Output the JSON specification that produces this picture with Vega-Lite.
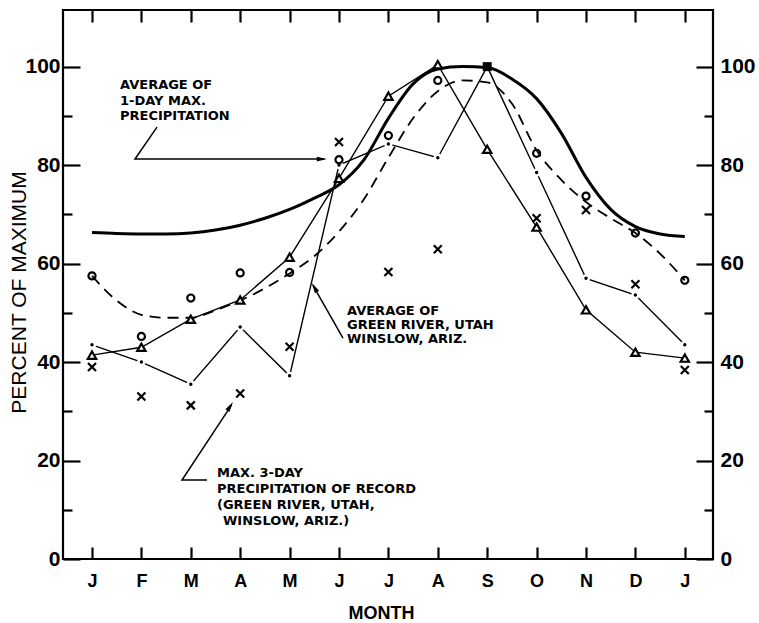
{
  "$schema": "https://vega.github.io/schema/vega-lite/v6.json",
  "width": 650,
  "height": 549,
  "autosize": {"type": "none"},
  "padding": {"left": 63, "top": 10, "right": 46, "bottom": 64},
  "background": "white",
  "config": {
    "view": {"stroke": "black", "strokeWidth": 2.2},
    "axis": {"domain": false, "grid": false, "tickColor": "black", "tickWidth": 2.2, "labelColor": "black", "titleColor": "black", "labelFont": "Liberation Sans", "titleFont": "Liberation Sans"},
    "line": {"color": "black"},
    "point": {"color": "black"}
  },
  "datasets": {
    "onedaymax": [
      {"month": 0, "value": 66.3}, {"month": 0.5, "value": 66.1}, {"month": 1, "value": 66.0}, {"month": 1.5, "value": 66.0},
      {"month": 2, "value": 66.2}, {"month": 2.5, "value": 66.8}, {"month": 3, "value": 67.8}, {"month": 3.5, "value": 69.2},
      {"month": 4, "value": 71.0}, {"month": 4.5, "value": 73.3}, {"month": 5, "value": 76.0}, {"month": 5.5, "value": 81.0},
      {"month": 6, "value": 89.5}, {"month": 6.5, "value": 96.5}, {"month": 7, "value": 99.5}, {"month": 7.5, "value": 100.0},
      {"month": 8, "value": 99.8}, {"month": 8.5, "value": 97.5}, {"month": 9, "value": 93.5}, {"month": 9.5, "value": 86.5},
      {"month": 10, "value": 77.5}, {"month": 10.5, "value": 71.0}, {"month": 11, "value": 67.5}, {"month": 11.5, "value": 66.0},
      {"month": 12, "value": 65.5}
    ],
    "avgcurve": [
      {"month": 0, "value": 57.5}, {"month": 0.5, "value": 52.5}, {"month": 1, "value": 49.6}, {"month": 1.5, "value": 49.0},
      {"month": 2, "value": 49.0}, {"month": 2.5, "value": 50.5}, {"month": 3, "value": 52.5}, {"month": 3.5, "value": 55.0},
      {"month": 4, "value": 58.0}, {"month": 4.5, "value": 61.5}, {"month": 5, "value": 66.5}, {"month": 5.5, "value": 73.0},
      {"month": 6, "value": 81.5}, {"month": 6.5, "value": 89.5}, {"month": 7, "value": 95.0}, {"month": 7.5, "value": 97.2},
      {"month": 8, "value": 96.8}, {"month": 8.5, "value": 92.5}, {"month": 9, "value": 83.0}, {"month": 9.5, "value": 77.0},
      {"month": 10, "value": 72.5}, {"month": 10.5, "value": 69.2}, {"month": 11, "value": 66.2}, {"month": 11.5, "value": 62.0},
      {"month": 12, "value": 56.6}
    ],
    "triangles": [
      {"month": 0, "value": 41.4}, {"month": 1, "value": 43.0}, {"month": 2, "value": 48.7}, {"month": 3, "value": 52.6},
      {"month": 4, "value": 61.3}, {"month": 5, "value": 77.3}, {"month": 6, "value": 94.0}, {"month": 7, "value": 100.4},
      {"month": 8, "value": 83.2}, {"month": 9, "value": 67.4}, {"month": 10, "value": 50.6}, {"month": 11, "value": 42.0},
      {"month": 12, "value": 40.8}
    ],
    "dots": [
      {"month": 0, "value": 43.5}, {"month": 1, "value": 40.0}, {"month": 2, "value": 35.5}, {"month": 3, "value": 47.1},
      {"month": 4, "value": 37.2}, {"month": 5, "value": 80.0}, {"month": 6, "value": 84.3}, {"month": 7, "value": 81.5},
      {"month": 8, "value": 100.0}, {"month": 9, "value": 78.5}, {"month": 10, "value": 57.0}, {"month": 11, "value": 53.6},
      {"month": 12, "value": 43.5}
    ],
    "circles": [
      {"month": 0, "value": 57.5}, {"month": 1, "value": 45.2}, {"month": 2, "value": 53.0}, {"month": 3, "value": 58.1},
      {"month": 4, "value": 58.2}, {"month": 5, "value": 81.1}, {"month": 6, "value": 86.0}, {"month": 7, "value": 97.2},
      {"month": 9, "value": 82.4}, {"month": 10, "value": 73.7}, {"month": 11, "value": 66.2}, {"month": 12, "value": 56.6}
    ],
    "crosses": [
      {"month": 0, "value": 39.0}, {"month": 1, "value": 33.0}, {"month": 2, "value": 31.2}, {"month": 3, "value": 33.6},
      {"month": 4, "value": 43.1}, {"month": 5, "value": 84.7}, {"month": 6, "value": 58.3}, {"month": 7, "value": 62.9},
      {"month": 9, "value": 69.2}, {"month": 10, "value": 70.9}, {"month": 11, "value": 55.8}, {"month": 12, "value": 38.4}
    ],
    "coincident": [
      {"month": 8, "value": 100.0}
    ],
    "arrows": [
      {"arrow": "a1", "order": 1, "month": 1.316, "value": 87.72},
      {"arrow": "a1", "order": 2, "month": 0.870, "value": 81.22},
      {"arrow": "a1", "order": 3, "month": 4.700, "value": 81.22},
      {"arrow": "a2", "order": 1, "month": 5.081, "value": 44.87},
      {"arrow": "a2", "order": 2, "month": 4.470, "value": 55.60},
      {"arrow": "a3", "order": 1, "month": 2.328, "value": 16.04},
      {"arrow": "a3", "order": 2, "month": 1.822, "value": 16.04},
      {"arrow": "a3", "order": 3, "month": 2.820, "value": 31.20}
    ],
    "arrowtips": [
      {"arrow": "a1", "month": 4.757, "value": 81.22},
      {"arrow": "a2", "month": 4.453, "value": 56.04},
      {"arrow": "a3", "month": 2.854, "value": 31.88}
    ],
    "notes": [
      {"month": 0.567, "value": 95.43, "text": "AVERAGE OF"},
      {"month": 0.567, "value": 92.28, "text": "1-DAY MAX."},
      {"month": 0.567, "value": 89.14, "text": "PRECIPITATION"},
      {"month": 5.162, "value": 49.54, "text": "AVERAGE OF"},
      {"month": 5.162, "value": 46.70, "text": "GREEN RIVER, UTAH"},
      {"month": 5.162, "value": 43.96, "text": "WINSLOW, ARIZ."},
      {"month": 2.530, "value": 16.65, "text": "MAX. 3-DAY"},
      {"month": 2.530, "value": 13.40, "text": "PRECIPITATION OF RECORD"},
      {"month": 2.530, "value": 10.15, "text": "(GREEN RIVER, UTAH,"},
      {"month": 2.652, "value": 6.90, "text": "WINSLOW, ARIZ.)"}
    ]
  },
  "resolve": {"axis": {"x": "independent", "y": "independent"}},
  "layer": [
    {
      "data": {"name": "onedaymax"},
      "mark": {"type": "line", "strokeWidth": 3, "interpolate": "monotone"},
      "encoding": {
        "x": {"field": "month", "type": "quantitative", "scale": {"domain": [-0.587, 12.571], "nice": false, "zero": false},
          "axis": {"orient": "bottom", "values": [0,1,2,3,4,5,6,7,8,9,10,11,12],
            "labelExpr": "['J','F','M','A','M','J','J','A','S','O','N','D','J'][datum.value]",
            "ticks": false, "tickSize": 0, "labelPadding": 13, "labelFontSize": 18, "labelFontWeight": "bold",
            "labelBaseline": "top", "labelFlush": false, "labelOverlap": false,
            "title": "MONTH", "titleFontSize": 18, "titleFontWeight": "bold", "titleX": 318, "titleY": 59, "titleBaseline": "alphabetic", "titleAlign": "center"}},
        "y": {"field": "value", "type": "quantitative", "scale": {"domain": [0, 111.5], "nice": false, "zero": false},
          "axis": {"orient": "left", "values": [0,20,40,60,80,100], "ticks": false, "tickSize": 0, "labelPadding": 3,
            "labelFontSize": 21, "labelFontWeight": "bold", "labelFlush": false, "labelOverlap": false,
            "title": "PERCENT OF MAXIMUM", "titleFontSize": 21, "titleFontWeight": "normal", "titleAngle": -90,
            "titleX": -38, "titleY": 282, "titleBaseline": "alphabetic", "titleAlign": "center"}}
      }
    },
    {
      "data": {"name": "avgcurve"},
      "mark": {"type": "line", "strokeWidth": 1.8, "strokeDash": [11, 7], "interpolate": "monotone"},
      "encoding": {
        "x": {"field": "month", "type": "quantitative", "scale": {"domain": [-0.587, 12.571], "nice": false, "zero": false},
          "axis": {"orient": "bottom", "values": [0,1,2,3,4,5,6,7,8,9,10,11,12], "labels": false, "tickSize": -12, "title": null}},
        "y": {"field": "value", "type": "quantitative", "scale": {"domain": [0, 111.5], "nice": false, "zero": false},
          "axis": {"orient": "left", "values": [0,20,40,60,80,100], "labels": false, "tickSize": -17, "title": null}}
      }
    },
    {
      "data": {"name": "triangles"},
      "mark": {"type": "line", "strokeWidth": 1.4},
      "encoding": {
        "x": {"field": "month", "type": "quantitative", "scale": {"domain": [-0.587, 12.571], "nice": false, "zero": false},
          "axis": {"orient": "top", "values": [0,1,2,3,4,5,6,7,8,9,10,11,12], "labels": false, "tickSize": -12, "title": null}},
        "y": {"field": "value", "type": "quantitative", "scale": {"domain": [0, 111.5], "nice": false, "zero": false},
          "axis": {"orient": "left", "values": [10,30,50,70,90], "labels": false, "tickSize": -9, "title": null}}
      }
    },
    {
      "data": {"name": "dots"},
      "mark": {"type": "line", "strokeWidth": 1.4},
      "encoding": {
        "x": {"field": "month", "type": "quantitative", "scale": {"domain": [-0.587, 12.571], "nice": false, "zero": false}, "axis": null},
        "y": {"field": "value", "type": "quantitative", "scale": {"domain": [0, 111.5], "nice": false, "zero": false},
          "axis": {"orient": "right", "values": [0,20,40,60,80,100], "ticks": false, "tickSize": 0, "labelPadding": 7,
            "labelFontSize": 21, "labelFontWeight": "bold", "labelFlush": false, "labelOverlap": false, "title": null}}
      }
    },
    {
      "data": {"name": "arrows"},
      "mark": {"type": "line", "strokeWidth": 1.5},
      "encoding": {
        "x": {"field": "month", "type": "quantitative", "scale": {"domain": [-0.587, 12.571], "nice": false, "zero": false}, "axis": null},
        "y": {"field": "value", "type": "quantitative", "scale": {"domain": [0, 111.5], "nice": false, "zero": false},
          "axis": {"orient": "right", "values": [0,20,40,60,80,100], "labels": false, "tickSize": -17, "title": null}},
        "detail": {"field": "arrow"},
        "order": {"field": "order", "type": "quantitative"}
      }
    },
    {
      "data": {"name": "dots"},
      "transform": [{"filter": "datum.month != 8"}],
      "mark": {"type": "point", "shape": "circle", "filled": true, "color": "white", "opacity": 1, "size": 70},
      "encoding": {
        "x": {"field": "month", "type": "quantitative", "scale": {"domain": [-0.587, 12.571], "nice": false, "zero": false}, "axis": null},
        "y": {"field": "value", "type": "quantitative", "scale": {"domain": [0, 111.5], "nice": false, "zero": false},
          "axis": {"orient": "right", "values": [10,30,50,70,90], "labels": false, "tickSize": -9, "title": null}}
      }
    },
    {
      "data": {"name": "crosses"},
      "mark": {"type": "point", "shape": "M-1,-1L1,1M-1,1L1,-1", "filled": false, "strokeWidth": 2.2, "size": 64, "opacity": 1},
      "encoding": {
        "x": {"field": "month", "type": "quantitative", "scale": {"domain": [-0.587, 12.571], "nice": false, "zero": false}, "axis": null},
        "y": {"field": "value", "type": "quantitative", "scale": {"domain": [0, 111.5], "nice": false, "zero": false}, "axis": null}
      }
    },
    {
      "data": {"name": "circles"},
      "mark": {"type": "point", "shape": "circle", "filled": false, "strokeWidth": 2.2, "size": 50, "opacity": 1},
      "encoding": {
        "x": {"field": "month", "type": "quantitative", "scale": {"domain": [-0.587, 12.571], "nice": false, "zero": false}, "axis": null},
        "y": {"field": "value", "type": "quantitative", "scale": {"domain": [0, 111.5], "nice": false, "zero": false}, "axis": null}
      }
    },
    {
      "data": {"name": "triangles"},
      "mark": {"type": "point", "shape": "triangle-up", "filled": true, "fill": "white", "stroke": "black", "strokeWidth": 2.2, "size": 70, "opacity": 1},
      "encoding": {
        "x": {"field": "month", "type": "quantitative", "scale": {"domain": [-0.587, 12.571], "nice": false, "zero": false}, "axis": null},
        "y": {"field": "value", "type": "quantitative", "scale": {"domain": [0, 111.5], "nice": false, "zero": false}, "axis": null}
      }
    },
    {
      "data": {"name": "dots"},
      "mark": {"type": "point", "shape": "circle", "filled": true, "size": 12, "opacity": 1},
      "encoding": {
        "x": {"field": "month", "type": "quantitative", "scale": {"domain": [-0.587, 12.571], "nice": false, "zero": false}, "axis": null},
        "y": {"field": "value", "type": "quantitative", "scale": {"domain": [0, 111.5], "nice": false, "zero": false}, "axis": null}
      }
    },
    {
      "data": {"name": "coincident"},
      "mark": {"type": "point", "shape": "square", "filled": true, "size": 80, "opacity": 1},
      "encoding": {
        "x": {"field": "month", "type": "quantitative", "scale": {"domain": [-0.587, 12.571], "nice": false, "zero": false}, "axis": null},
        "y": {"field": "value", "type": "quantitative", "scale": {"domain": [0, 111.5], "nice": false, "zero": false}, "axis": null}
      }
    },
    {
      "data": {"name": "arrowtips"},
      "transform": [{"filter": "datum.arrow == 'a1'"}],
      "mark": {"type": "point", "shape": "M0,0L0.8,3.4L-0.8,3.4Z", "filled": true, "size": 36, "angle": 90, "opacity": 1},
      "encoding": {
        "x": {"field": "month", "type": "quantitative", "scale": {"domain": [-0.587, 12.571], "nice": false, "zero": false}, "axis": null},
        "y": {"field": "value", "type": "quantitative", "scale": {"domain": [0, 111.5], "nice": false, "zero": false}, "axis": null}
      }
    },
    {
      "data": {"name": "arrowtips"},
      "transform": [{"filter": "datum.arrow == 'a2'"}],
      "mark": {"type": "point", "shape": "M0,0L0.8,3.4L-0.8,3.4Z", "filled": true, "size": 36, "angle": -29.4, "opacity": 1},
      "encoding": {
        "x": {"field": "month", "type": "quantitative", "scale": {"domain": [-0.587, 12.571], "nice": false, "zero": false}, "axis": null},
        "y": {"field": "value", "type": "quantitative", "scale": {"domain": [0, 111.5], "nice": false, "zero": false}, "axis": null}
      }
    },
    {
      "data": {"name": "arrowtips"},
      "transform": [{"filter": "datum.arrow == 'a3'"}],
      "mark": {"type": "point", "shape": "M0,0L0.8,3.4L-0.8,3.4Z", "filled": true, "size": 36, "angle": 33.2, "opacity": 1},
      "encoding": {
        "x": {"field": "month", "type": "quantitative", "scale": {"domain": [-0.587, 12.571], "nice": false, "zero": false}, "axis": null},
        "y": {"field": "value", "type": "quantitative", "scale": {"domain": [0, 111.5], "nice": false, "zero": false}, "axis": null}
      }
    },
    {
      "data": {"name": "notes"},
      "mark": {"type": "text", "align": "left", "baseline": "alphabetic", "font": "DejaVu Sans", "fontWeight": "bold", "fontSize": 13, "color": "black"},
      "encoding": {
        "x": {"field": "month", "type": "quantitative", "scale": {"domain": [-0.587, 12.571], "nice": false, "zero": false}, "axis": null},
        "y": {"field": "value", "type": "quantitative", "scale": {"domain": [0, 111.5], "nice": false, "zero": false}, "axis": null},
        "text": {"field": "text"}
      }
    }
  ]
}
